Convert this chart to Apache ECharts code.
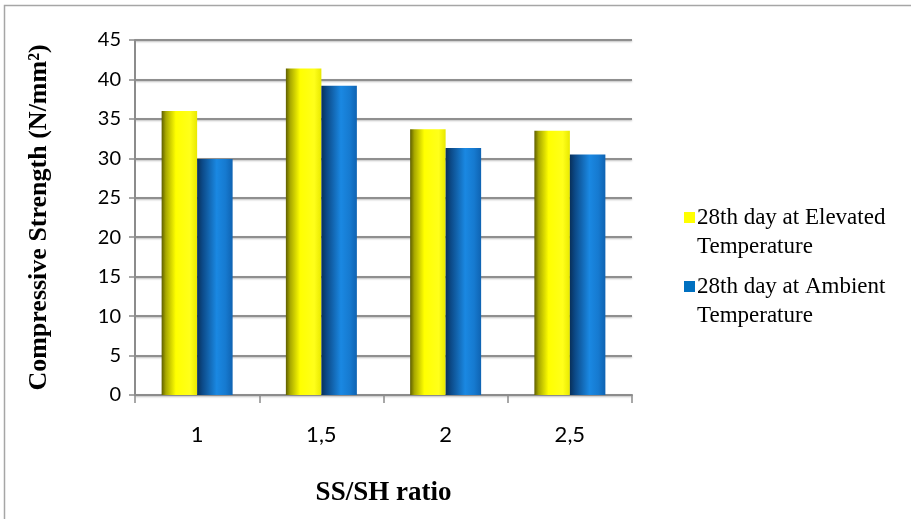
<!DOCTYPE html>
<html>
<head>
<meta charset="utf-8">
<script src="https://cdn.jsdelivr.net/npm/echarts@6/dist/echarts.min.js"></script>
<style>
  html, body { margin: 0; padding: 0; background: #fff; }
  #chart { width: 911px; height: 519px; }
</style>
</head>
<body>
<div id="chart"></div>
<script>
// SS/SH ratios tested
const ratios = ['1', '1,5', '2', '2,5'];
// 28-day compressive strength, N/mm²
const elevatedTemp = [36.0, 41.4, 33.7, 33.5];
const ambientTemp = [29.9, 39.2, 31.3, 30.5];
const seriesNames = ['28th day at Elevated\nTemperature', '28th day at Ambient\nTemperature'];
const yTicks = { min: 0, max: 45, step: 5 };

const serif = '"Liberation Serif", "Times New Roman", serif';
const sans = 'Lato, "Open Sans", sans-serif';

const yellowFill = new echarts.graphic.LinearGradient(0, 0, 1, 0, [
  { offset: 0, color: '#5e5e00' },
  { offset: 0.12, color: '#a8a800' },
  { offset: 0.4, color: '#ffff00' },
  { offset: 0.8, color: '#ffff1a' },
  { offset: 1, color: '#e8e800' }
]);
const blueFill = new echarts.graphic.LinearGradient(0, 0, 1, 0, [
  { offset: 0, color: '#08305a' },
  { offset: 0.15, color: '#0c4a88' },
  { offset: 0.55, color: '#1a88e2' },
  { offset: 0.8, color: '#167ad0' },
  { offset: 1, color: '#0f63b2' }
]);

const chart = echarts.init(document.getElementById('chart'), null, { renderer: 'canvas' });
chart.setOption({
  backgroundColor: '#fff',
  animation: false,
  graphic: [{
    type: 'rect',
    shape: { x: 4.5, y: 5.5, width: 1200, height: 1200 },
    style: { fill: 'none', stroke: '#a6a6a6', lineWidth: 1.5 },
    silent: true
  }],
  grid: { left: 135, right: 279, top: 40, bottom: 124 },
  legend: {
    orient: 'vertical',
    left: 679,
    top: 169,
    itemWidth: 11,
    itemHeight: 11,
    itemGap: -18,
    icon: 'rect',
    formatter: name => '\n' + name,
    textStyle: { fontFamily: serif, fontSize: 23, lineHeight: 29, color: '#000', padding: [0, 0, 0, -3] },
    data: [
      { name: seriesNames[0], itemStyle: { color: '#ffff00' } },
      { name: seriesNames[1], itemStyle: { color: '#0070c0' } }
    ]
  },
  xAxis: {
    type: 'category',
    data: ratios,
    name: 'SS/SH ratio',
    nameLocation: 'middle',
    nameGap: 85,
    nameTextStyle: { fontFamily: serif, fontWeight: 'bold', fontSize: 27, color: '#000' },
    axisLine: { lineStyle: { color: '#8c8c8c', width: 2 } },
    axisTick: { show: true, length: 8, lineStyle: { color: '#8c8c8c', width: 1.5 } },
    axisLabel: { fontFamily: sans, fontSize: 22, color: '#000', margin: 29 }
  },
  yAxis: {
    type: 'value',
    min: yTicks.min,
    max: yTicks.max,
    interval: yTicks.step,
    name: 'Compressive Strength (N/mm²)',
    nameLocation: 'middle',
    nameGap: 83,
    nameTextStyle: { fontFamily: serif, fontWeight: 'bold', fontSize: 26, color: '#000' },
    axisLine: { show: true, lineStyle: { color: '#8c8c8c', width: 2 } },
    axisTick: { show: true, length: 6, lineStyle: { color: '#8c8c8c', width: 1.5 } },
    axisLabel: { fontFamily: sans, fontSize: 20, color: '#000', margin: 14 },
    splitLine: { lineStyle: { color: '#8f8f8f', width: 2, shadowColor: 'rgba(0,0,0,0.25)', shadowBlur: 2, shadowOffsetY: 1 } }
  },
  series: [
    {
      name: seriesNames[0],
      type: 'bar',
      data: elevatedTemp,
      barWidth: 35.5,
      barGap: '0%',
      itemStyle: { color: yellowFill }
    },
    {
      name: seriesNames[1],
      type: 'bar',
      data: ambientTemp,
      barWidth: 35.5,
      barGap: '0%',
      itemStyle: { color: blueFill }
    }
  ]
});
</script>
</body>
</html>
